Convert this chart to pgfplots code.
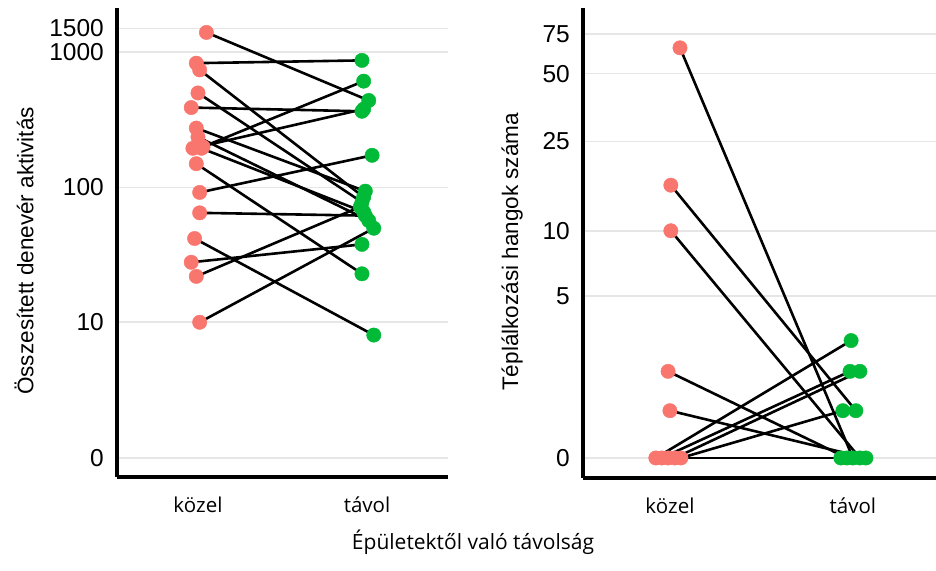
\documentclass[border=0pt]{standalone}
\usepackage{pgfplots}
\pgfplotsset{compat=1.18}
\usepackage{pgfplotstable}
\usepackage{fontspec}
\setmainfont{Liberation Sans}
\newfontfamily\catfont{Open Sans}

\definecolor{kozel}{HTML}{F8766D}
\definecolor{tavol}{HTML}{00BA38}
\definecolor{gridc}{HTML}{E6E6E6}

% paired observations: near (x ~ 0) and far (x ~ 1), small horizontal jitter
\pgfplotstableread{
xk     yk    xt     yt
0.05   1400  1.01   440
-0.01  830   0.97   870
0.01   740   0.98   85
0.00   500   0.97   78
-0.04  390   0.97   366
-0.01  275   0.99   94
0.00   236   1.01   57
0.03   200   0.98   611
-0.03  195   0.98   380
0.02   195   0.98   66
-0.01  150   0.97   23
0.01   92    1.03   173
0.01   65    0.99   62
-0.02  42    1.04   8
-0.04  28    0.97   38
-0.01  22    0.96   72
0.01   10    1.04   50
}\aktivitas

\pgfplotstableread{
xk      yk   xt     yt
0.055   65   1.000  0
0.005   16   1.016  1
0.005   10   1.038  0
-0.010  2    0.967  0
0.000   1    1.071  0
-0.077  0    0.990  3
-0.044  0    0.984  2
0.027   0    1.038  2
0.060   0    0.945  1
-0.010  0    0.934  0
}\hangok

\makeatletter
\pgfplotsset{
  % pseudo-log scale: asinh(y/2)
  pseudolog/.style={
    y coord trafo/.code={%
      {\pgfkeys{/pgf/fpu=true,/pgf/fpu/output format=fixed}%
       \pgfmathparse{ln(##1/2+sqrt((##1/2)*(##1/2)+1))}%
       \global\let\pseudolog@res\pgfmathresult}%
      \let\pgfmathresult\pseudolog@res
    },
  },
  panel/.style={
    pseudolog,
    scale only axis,
    anchor=south west,
    axis x line*=bottom,
    axis y line*=left,
    axis line style={line width=3.2pt, black},
    major tick length=0pt,
    tick style={draw=none},
    ymajorgrids,
    major grid style={gridc, line width=1.6pt},
    xtick={0,1},
    xticklabels={közel,távol},
    xticklabel style={font=\catfont\fontsize{20.5}{24}\selectfont, anchor=base, yshift=-35pt},
    yticklabel style={font=\fontsize{24.5}{26}\selectfont, anchor=east, inner sep=0pt, xshift=-13pt},
    /pgf/number format/assume math mode=true,
    ylabel style={anchor=center, font=\fontsize{22.5}{25}\selectfont},
    clip=false,
  },
  pairline/.style={black, line width=2.6pt, no markers},
  nearpt/.style={only marks, mark=*, mark size=7.2pt, color=kozel},
  farpt/.style={only marks, mark=*, mark size=7.2pt, color=tavol},
}
\makeatother

% one straight segment per row of a pair table
\newcommand\pairlines[1]{%
  \pgfplotstablegetrowsof{#1}%
  \pgfmathtruncatemacro\lastrow{\pgfplotsretval-1}%
  \pgfplotsinvokeforeach{0,...,\lastrow}{%
    \pgfplotstablegetelem{##1}{xk}\of{#1}\let\xa\pgfplotsretval
    \pgfplotstablegetelem{##1}{yk}\of{#1}\let\ya\pgfplotsretval
    \pgfplotstablegetelem{##1}{xt}\of{#1}\let\xb\pgfplotsretval
    \pgfplotstablegetelem{##1}{yt}\of{#1}\let\yb\pgfplotsretval
    \edef\seg{\noexpand\addplot[pairline] coordinates {(\xa,\ya) (\xb,\yb)};}%
    \seg
  }%
}

\begin{document}
\begin{tikzpicture}[x=1pt, y=1pt]
\useasboundingbox (0,0) rectangle (936,570);

\begin{axis}[panel,
  at={(117pt,93pt)}, width=331pt, height=469pt,
  xmin=-0.479, xmax=1.479, ymin=-0.651, ymax=2122,
  ytick={0,10,100,1000,1500},
  yticklabels={0,10,100,1000,1500},
  ylabel={Összesített denevér aktivitás},
  ylabel style={at={(axis description cs:-0.281,0.482)}},
]
\pairlines{\aktivitas}
\addplot[nearpt] table[x=xk, y=yk] {\aktivitas};
\addplot[farpt]  table[x=xt, y=yt] {\aktivitas};
\end{axis}

\begin{axis}[panel,
  at={(583pt,92pt)}, width=353pt, height=470pt,
  xmin=-0.475, xmax=1.454, ymin=-0.4108, ymax=97.5,
  ytick={0,5,10,25,50,75},
  yticklabels={0,5,10,25,50,75},
  ylabel={Téplálkozási hangok száma},
  ylabel style={at={(axis description cs:-0.201,0.481)}},
]
\pairlines{\hangok}
\addplot[nearpt] table[x=xk, y=yk] {\hangok};
\addplot[farpt]  table[x=xt, y=yt] {\hangok};
\end{axis}

\node[font=\catfont\fontsize{21}{24}\selectfont, anchor=base] at (473,21) {Épületektől való távolság};
\end{tikzpicture}
\end{document}
